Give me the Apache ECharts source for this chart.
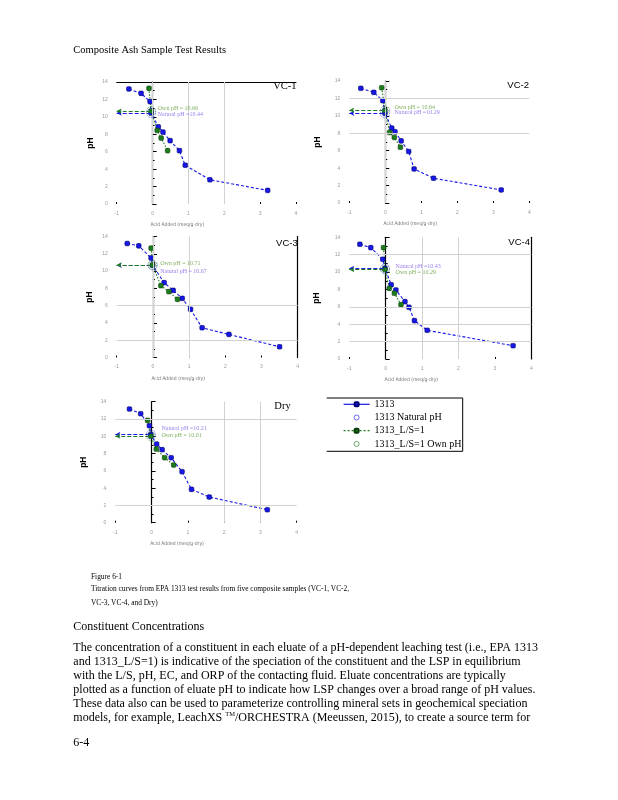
<!DOCTYPE html>
<html><head><meta charset="utf-8">
<script src="https://cdn.jsdelivr.net/npm/echarts@6/dist/echarts.min.js"></script>
<style>html,body{margin:0;padding:0;background:#fff}#c{width:618px;height:800px}</style>
</head><body><div id="c"></div>
<script>
// ---------- DATA ----------
const panelNames = ['VC-1', 'VC-2', 'VC-3', 'VC-4', 'Dry'];
const xTickValues = [-1, 0, 1, 2, 3, 4];
const yTickValues = [0, 2, 4, 6, 8, 10, 12, 14];
const seriesNames = ['1313', '1313 Natural pH', '1313_L/S=1', '1313_L/S=1 Own pH'];

// [acid added (meq/g-dry), pH]
const vc1_1313 = [[-0.66,13.2],[-0.32,12.7],[-0.07,11.75],[-0.04,10.44],[0.16,8.86],[0.29,8.25],[0.49,7.27],[0.75,6.12],[0.91,4.45],[1.60,2.78],[3.21,1.56]];
const vc1_ls1  = [[-0.10,13.27],[-0.04,10.66],[0.13,8.44],[0.24,7.57],[0.42,6.12]];
const vc1_natural = [-0.04, 10.44];
const vc1_own     = [-0.04, 10.66];

const vc2_1313 = [[-0.68,13.16],[-0.32,12.7],[-0.07,11.74],[-0.01,10.29],[0.18,8.59],[0.27,8.17],[0.44,7.13],[0.65,5.91],[0.80,3.91],[1.34,2.84],[3.22,1.5]];
const vc2_ls1  = [[-0.10,13.23],[-0.01,10.64],[0.12,8.09],[0.25,7.52],[0.42,6.4]];
const vc2_natural = [-0.01, 10.29];
const vc2_own     = [-0.01, 10.64];

const vc3_1313 = [[-0.71,13.19],[-0.39,12.92],[-0.05,11.52],[-0.01,10.67],[0.31,8.66],[0.56,7.77],[0.81,6.84],[1.04,5.57],[1.36,3.44],[2.10,2.67],[3.50,1.24]];
const vc3_ls1  = [[-0.05,12.65],[-0.01,10.71],[0.22,8.31],[0.44,7.62],[0.68,6.73]];
const vc3_natural = [-0.01, 10.67];
const vc3_own     = [-0.01, 10.71];

const vc4_1313 = [[-0.71,13.2],[-0.41,12.81],[-0.08,11.47],[-0.02,10.43],[0.15,8.55],[0.28,7.94],[0.53,6.6],[0.64,5.95],[0.79,4.41],[1.14,3.3],[3.50,1.53]];
const vc4_ls1  = [[-0.06,12.81],[-0.02,10.29],[0.10,8.13],[0.24,7.56],[0.42,6.25]];
const vc4_natural = [-0.02, 10.43];
const vc4_own     = [-0.02, 10.29];

const dry_1313 = [[-0.61,13.15],[-0.30,12.61],[-0.06,11.22],[-0.02,10.21],[0.14,9.1],[0.29,8.45],[0.54,7.52],[0.84,5.9],[1.10,3.86],[1.59,2.97],[3.19,1.5]];
const dry_ls1  = [[-0.11,11.84],[-0.02,10.01],[0.13,8.52],[0.36,7.52],[0.61,6.67]];
const dry_natural = [-0.02, 10.21];
const dry_own     = [-0.02, 10.01];

// light gridlines visible in each panel
const vc1_gridX = [0, 1, 2], vc1_gridY = [];
const vc2_gridX = [0],       vc2_gridY = [8, 12];
const vc3_gridX = [0, 1],    vc3_gridY = [2, 6];
const vc4_gridX = [1, 2],    vc4_gridY = [2, 4, 6, 12];
const dry_gridX = [2, 3],    dry_gridY = [2, 12];

const panelData = [
  {s1313: vc1_1313, ls1: vc1_ls1, nat: vc1_natural, own: vc1_own, gx: vc1_gridX, gy: vc1_gridY},
  {s1313: vc2_1313, ls1: vc2_ls1, nat: vc2_natural, own: vc2_own, gx: vc2_gridX, gy: vc2_gridY},
  {s1313: vc3_1313, ls1: vc3_ls1, nat: vc3_natural, own: vc3_own, gx: vc3_gridX, gy: vc3_gridY},
  {s1313: vc4_1313, ls1: vc4_ls1, nat: vc4_natural, own: vc4_own, gx: vc4_gridX, gy: vc4_gridY},
  {s1313: dry_1313, ls1: dry_ls1, nat: dry_natural, own: dry_own, gx: dry_gridX, gy: dry_gridY}
];

// ---------- LAYOUT / STYLE ----------
const SERIF = '"Liberation Serif","Times New Roman",serif';
const SANS = '"Liberation Sans",Arial,sans-serif';
const NARROW = '"Liberation Sans Narrow","DejaVu Sans Condensed","Liberation Sans",sans-serif';
const layout = [
  {left:116.7, top:82,    width:179.3, height:122,   yGap:22,   titleRight:321.5, titleTop:80.5, titleFont:SERIF, topLine:true,  rightLine:false, own:[7,-2.4], nat:[7,1.3],  natSep:' =', titleSize:10.5},
  {left:349.3, top:81,    width:180,   height:122,   yGap:27,   titleRight:89,    titleTop:80,   titleFont:SANS,  topLine:false, rightLine:false, own:[10,-2.6],nat:[10,-0.7],natSep:' =', titleSize:9.5},
  {left:116.7, top:236.5, width:181,   height:121,   yGap:22.5, titleRight:320.3, titleTop:238,  titleFont:SANS,  topLine:false, rightLine:true,  own:[8,-1.3], nat:[8,6.4],  natSep:' = ', titleSize:9.5},
  {left:349.3, top:237.3, width:182,   height:121.7, yGap:28,   titleRight:88,    titleTop:237.5,titleFont:SANS,  topLine:false, rightLine:true,  own:[11,3.1], nat:[11,-1.4],natSep:' =', titleSize:9.5},
  {left:115.3, top:401.7, width:181.4, height:121,   yGap:27,   titleRight:327.3, titleTop:401,  titleFont:SERIF, topLine:false, rightLine:false, own:[11,-0.2],nat:[11,-5.5],natSep:' =', titleSize:10.5}
];
const BLUE = '#1717e8', BLUE_DARK = '#00006e';
const GREEN = '#1b7d1b', GREEN_DARK = '#0a3a0a';
const RING = 9;
const MARK = 4.6;

const grids = [], xAxes = [], yAxes = [], series = [], titles = [];
panelNames.forEach((name, i) => {
  const L = layout[i], D = panelData[i];
  grids.push({left: L.left, top: L.top, width: L.width, height: L.height});
  titles.push({text: name, right: L.titleRight, top: L.titleTop, padding: 0,
    textStyle: {fontFamily: L.titleFont, fontSize: L.titleSize, fontWeight: 'normal', color: '#000'}});
  const xi = xAxes.length;
  xAxes.push({gridIndex: i, type: 'value', min: xTickValues[0], max: xTickValues[xTickValues.length-1], interval: 1,
    axisLine: {show: false}, axisTick: {show: true, inside: true, length: 2, lineStyle: {color: '#000', width: 1}},
    splitLine: {show: false},
    axisLabel: {fontSize: 5, color: '#9a9a9a', margin: 7, fontFamily: SANS},
    name: 'Acid Added (meq/g-dry)', nameLocation: 'middle', nameGap: 18.5,
    nameTextStyle: {fontSize: 5, color: '#707070', fontFamily: NARROW, padding: [0, 58, 0, 0]}});
  if (L.topLine) xAxes.push({gridIndex: i, type: 'value', position: 'top', min: -1, max: 4,
    axisLine: {show: true, lineStyle: {color: '#000', width: 1}}, axisTick: {show: false}, axisLabel: {show: false}, splitLine: {show: false}});
  const yi = yAxes.length;
  yAxes.push({gridIndex: i, type: 'value', min: yTickValues[0], max: yTickValues[yTickValues.length-1], interval: 2,
    axisLine: {show: true, lineStyle: {color: '#000', width: 1.2}},
    axisTick: {show: true, inside: true, length: 4, lineStyle: {color: '#000', width: 1}},
    minorTick: {show: true, splitNumber: 2, length: 2, lineStyle: {color: '#000', width: 1}},
    splitLine: {show: false},
    axisLabel: {fontSize: 5, color: '#9a9a9a', margin: 9, fontFamily: SANS},
    name: 'pH', nameLocation: 'middle', nameGap: L.yGap,
    nameTextStyle: {fontSize: 8.5, fontWeight: 'bold', fontFamily: SANS, color: '#000'}});
  if (L.rightLine) yAxes.push({gridIndex: i, type: 'value', position: 'right', min: 0, max: 14,
    axisLine: {show: true, lineStyle: {color: '#000', width: 1.2}}, axisTick: {show: false}, axisLabel: {show: false}, splitLine: {show: false}});

  // gridlines
  series.push({type: 'line', name: 'grid' + i, xAxisIndex: xi, yAxisIndex: yi, data: [], silent: true, z: 1,
    markLine: {silent: true, symbol: ['none', 'none'], animation: false, label: {show: false},
      lineStyle: {color: '#d2d2d2', width: 1, type: 'solid'},
      data: D.gx.map(v => ({xAxis: v})).concat(D.gy.map(v => ({yAxis: v})))}});

  // main series
  series.push({type: 'line', name: seriesNames[0], xAxisIndex: xi, yAxisIndex: yi, data: D.s1313,
    symbol: 'roundRect', symbolSize: MARK, z: 4,
    lineStyle: {color: BLUE, width: 1.1, type: [3, 2]},
    itemStyle: {color: BLUE, borderColor: BLUE_DARK, borderWidth: 0.6}});
  series.push({type: 'line', name: seriesNames[2], xAxisIndex: xi, yAxisIndex: yi, data: D.ls1,
    symbol: 'roundRect', symbolSize: MARK, z: 4,
    lineStyle: {color: GREEN, width: 1.1, type: [1.5, 1.5]},
    itemStyle: {color: GREEN, borderColor: GREEN_DARK, borderWidth: 0.6}});

  // natural pH ring + arrow
  series.push({type: 'scatter', name: seriesNames[1], xAxisIndex: xi, yAxisIndex: yi, data: [D.nat],
    symbol: 'circle', symbolSize: RING, z: 5,
    itemStyle: {color: 'rgba(0,0,0,0)', borderColor: BLUE, borderWidth: 0.8, borderType: 'dotted'},
    label: {show: true, formatter: 'Natural pH' + L.natSep + D.nat[1].toFixed(2),
      position: [RING/2 + L.nat[0], RING/2 + L.nat[1]], align: 'left', verticalAlign: 'middle',
      fontSize: 6, fontFamily: SERIF, color: '#7a5ee8'},
    markLine: {silent: true, symbol: ['arrow', 'none'], symbolSize: [4, 5], animation: false, label: {show: false},
      lineStyle: {color: BLUE, width: 1.2, type: [4, 2]},
      data: [[{coord: [xTickValues[0], D.nat[1]]}, {coord: D.nat}]]}});
  // own pH ring + arrow
  series.push({type: 'scatter', name: seriesNames[3], xAxisIndex: xi, yAxisIndex: yi, data: [D.own],
    symbol: 'circle', symbolSize: RING, z: 5,
    itemStyle: {color: 'rgba(0,0,0,0)', borderColor: GREEN, borderWidth: 0.8, borderType: 'dotted'},
    label: {show: true, formatter: 'Own pH = ' + D.own[1].toFixed(2),
      position: [RING/2 + L.own[0], RING/2 + L.own[1]], align: 'left', verticalAlign: 'middle',
      fontSize: 6, fontFamily: SERIF, color: '#5c9a32'},
    markLine: {silent: true, symbol: ['arrow', 'none'], symbolSize: [4, 5], animation: false, label: {show: false},
      lineStyle: {color: GREEN, width: 1.2, type: [4, 2]},
      data: [[{coord: [xTickValues[0], D.own[1]]}, {coord: D.own}]]}});
});

// page text
const paragraph = [
  'The concentration of a constituent in each eluate of a pH-dependent leaching test (i.e., EPA 1313',
  'and 1313_L/S=1) is indicative of the speciation of the constituent and the LSP in equilibrium',
  'with the L/S, pH, EC, and ORP of the contacting fluid. Eluate concentrations are typically',
  'plotted as a function of eluate pH to indicate how LSP changes over a broad range of pH values.',
  'These data also can be used to parameterize controlling mineral sets in geochemical speciation',
  'models, for example, LeachXS {s|TM}/ORCHESTRA (Meeussen, 2015), to create a source term for'
];
const paraY = [648.3, 662.2, 676.3, 690.1, 704.3, 718.1];
const caption = ['Figure 6-1',
  'Titration curves from EPA 1313 test results from five composite samples (VC-1, VC-2,',
  'VC-3, VC-4, and Dry)'];
const captionY = [576.7, 589.3, 603];

function txt(x, y, text, size, family, extra) {
  return {type: 'text', silent: true, style: Object.assign({x: x, y: y, text: text,
    font: size + 'px ' + family, fill: '#000', verticalAlign: 'middle', align: 'left'}, extra || {})};
}
const graphics = [];
graphics.push(txt(73.3, 50, 'Composite Ash Sample Test Results', 10.5, SERIF));
caption.forEach((t, k) => graphics.push(txt(91, captionY[k], t, 7.4, SERIF)));
graphics.push(txt(73.3, 626.7, 'Constituent Concentrations', 12, SERIF));
paragraph.forEach((t, k) => graphics.push(txt(73.3, paraY[k], t, 12, SERIF,
  {rich: {s: {fontSize: 6.5, fontFamily: SERIF, verticalAlign: 'top', lineHeight: 14, padding: [0, 0, 6, 0]}}})));
graphics.push(txt(73.3, 742.7, '6-4', 12, SERIF));
// legend frame (top, right, bottom sides)
graphics.push({type: 'polyline', silent: true,
  shape: {points: [[326.7, 398], [462.7, 398], [462.7, 451.3], [326.7, 451.3]]},
  style: {stroke: '#000', lineWidth: 1, fill: null}});

const chart = echarts.init(document.getElementById('c'), null, {renderer: 'canvas'});
chart.setOption({
  animation: false,
  backgroundColor: '#fff',
  title: titles,
  grid: grids,
  xAxis: xAxes,
  yAxis: yAxes,
  legend: {
    orient: 'vertical', left: 343, top: 398.3, padding: 0, itemGap: 1.2,
    itemWidth: 26, itemHeight: 5, selectedMode: false,
    textStyle: {fontFamily: SERIF, fontSize: 10, color: '#000', lineHeight: 12},
    data: [
      {name: seriesNames[0], lineStyle: {type: 'solid', width: 1.2}},
      {name: seriesNames[1], itemStyle: {borderWidth: 0.8}},
      {name: seriesNames[2], lineStyle: {type: [2, 2], width: 1.2}},
      {name: seriesNames[3], itemStyle: {borderWidth: 0.8}}
    ]
  },
  graphic: graphics,
  series: series
});
</script></body></html>
